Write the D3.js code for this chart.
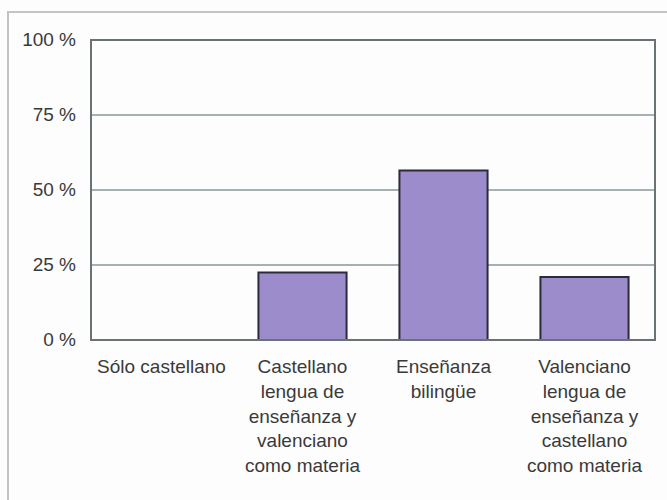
<!DOCTYPE html>
<html>
<head>
<meta charset="utf-8">
<script src="https://cdn.jsdelivr.net/npm/d3@7"></script>
<style>
  body { margin: 0; background: #fdfdfd; }
  text { font-family: "Liberation Sans", Arial, sans-serif; fill: #3a3a3a; }
</style>
</head>
<body>
<svg width="667" height="500"></svg>
<script>
// categories (each label split into lines) and shares in percent
const categories = [
  ["Sólo castellano"],
  ["Castellano", "lengua de", "enseñanza y", "valenciano", "como materia"],
  ["Enseñanza", "bilingüe"],
  ["Valenciano", "lengua de", "enseñanza y", "castellano", "como materia"]
];
const values = [0, 22.5, 56.5, 21];
const yTicks = [0, 25, 50, 75, 100];

const svg = d3.select("svg");
const margin = {left: 91, right: 12, top: 40, bottom: 160};
const width = 667 - margin.left - margin.right,
    height = 500 - margin.top - margin.bottom;

// outer frame, only left and top edges show
svg.append("path")
    .attr("d", "M8,500V12H667")
    .attr("fill", "none")
    .attr("stroke", "#c4c4c4")
    .attr("stroke-width", 2);

const g = svg.append("g").attr("transform", `translate(${margin.left},${margin.top})`);

const x = d3.scaleBand()
    .domain(d3.range(categories.length))
    .range([0, width])
    .paddingInner(0.375)
    .paddingOuter(0.1875);

const y = d3.scaleLinear().domain([0, 100]).range([height, 0]);

g.selectAll(".grid")
  .data(yTicks.slice(1, -1))
  .join("line")
    .attr("class", "grid")
    .attr("x1", 0).attr("x2", width)
    .attr("y1", d => y(d)).attr("y2", d => y(d))
    .attr("stroke", "#a9b0b3")
    .attr("stroke-width", 2);

g.selectAll(".bar")
  .data(values)
  .join("rect")
    .attr("class", "bar")
    .attr("x", (d, i) => x(i))
    .attr("y", d => y(d))
    .attr("width", x.bandwidth())
    .attr("height", d => height - y(d))
    .attr("fill", d => d > 0 ? "#9c8ccb" : "none")
    .attr("stroke", d => d > 0 ? "#2b2b3a" : "none")
    .attr("stroke-width", 2);

g.append("rect")
    .attr("width", width)
    .attr("height", height)
    .attr("fill", "none")
    .attr("stroke", "#6b7275")
    .attr("stroke-width", 2);

g.selectAll(".ylab")
  .data(yTicks)
  .join("text")
    .attr("class", "ylab")
    .attr("x", -15)
    .attr("y", d => y(d))
    .attr("dy", "0.3em")
    .attr("text-anchor", "end")
    .attr("font-size", 19)
    .text(d => d + " %");

g.selectAll(".xlab")
  .data(categories)
  .join("text")
    .attr("class", "xlab")
    .attr("text-anchor", "middle")
    .attr("font-size", 19)
    .attr("transform", (d, i) => `translate(${x(i) + x.bandwidth() / 2},${height + 33})`)
  .selectAll("tspan")
  .data(d => d)
  .join("tspan")
    .attr("x", 0)
    .attr("y", (d, i) => i * 24.8)
    .text(d => d);
</script>
</body>
</html>
